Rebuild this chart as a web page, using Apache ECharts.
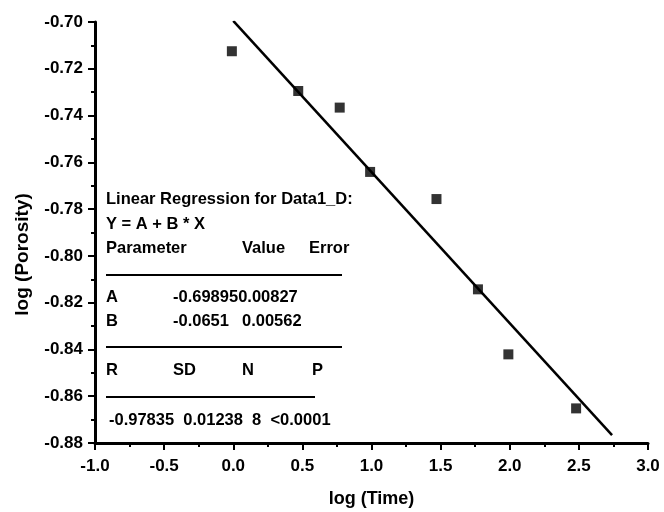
<!DOCTYPE html>
<html>
<head>
<meta charset="utf-8">
<script src="https://cdn.jsdelivr.net/npm/echarts@6/dist/echarts.min.js"></script>
<style>
  html, body { margin: 0; padding: 0; background: #fff; }
  #chart { width: 664px; height: 512px; }
</style>
</head>
<body>
<div id="chart"></div>
<script>
// measured points: log(Time) vs log(Porosity)
var logTime = [-0.01, 0.47, 0.77, 0.99, 1.47, 1.77, 1.99, 2.48];
var logPorosity = [-0.7125, -0.7295, -0.7366, -0.7641, -0.7757, -0.8143, -0.8421, -0.8652];

// fitted line end points, Y = A + B * X
var fitX = [0.0, 2.74];
var fitY = [-0.6995, -0.8766];

// axis ticks
var xTicks = { min: -1.0, max: 3.0, step: 0.5 };
var yTicks = { min: -0.88, max: -0.70, step: 0.02 };

// regression table text
var tableTitle = ["Linear Regression for Data1_D:", "Y = A + B * X"];
var paramHead = ["Parameter", "Value", "Error"];
var paramRows = [["A", "-0.698950.00827", ""], ["B", "-0.0651", "0.00562"]];
var statHead = ["R", "SD", "N", "P"];
var statRow = "-0.97835  0.01238  8  <0.0001";

(function () {
    var font = "'Liberation Sans', Arial, sans-serif";
    var chart = echarts.init(document.getElementById("chart"));

    var pts = [];
    for (var i = 0; i < logTime.length; i++) {
        pts.push([logTime[i], logPorosity[i]]);
    }
    var line = [];
    for (var j = 0; j < fitX.length; j++) {
        line.push([fitX[j], fitY[j]]);
    }

    function txt(x, y, s) {
        return {
            type: "text", left: x, top: y - 9,
            style: { text: s, fill: "#000", font: "bold 16.5px " + font }
        };
    }
    function rule(x1, x2, y) {
        return {
            type: "line",
            shape: { x1: x1, y1: y, x2: x2, y2: y },
            style: { stroke: "#000", lineWidth: 2 }
        };
    }

    // table layout columns
    var c0 = 106, c1 = 173, c2 = 242, c3 = 309;
    var graphics = [
        txt(c0, 200, tableTitle[0]),
        txt(c0, 225, tableTitle[1]),
        txt(c0, 249, paramHead[0]),
        txt(c2, 249, paramHead[1]),
        txt(c3, 249, paramHead[2]),
        rule(c0, 342, 275),
        txt(c0, 298, paramRows[0][0]),
        txt(c1, 298, paramRows[0][1]),
        txt(c0, 322, paramRows[1][0]),
        txt(c1, 322, paramRows[1][1]),
        txt(c2, 322, paramRows[1][2]),
        rule(c0, 342, 347),
        txt(c0, 371, statHead[0]),
        txt(c1, 371, statHead[1]),
        txt(c2, 371, statHead[2]),
        txt(c3 + 3, 371, statHead[3]),
        rule(c0, 315, 397),
        txt(c0 + 3, 421, statRow)
    ];

    var axisCommon = {
        axisLine: { show: true, onZero: false, lineStyle: { color: "#000", width: 3 } },
        axisTick: { show: true, inside: false, length: 7, lineStyle: { color: "#000", width: 2 } },
        minorTick: { show: true, splitNumber: 2, length: 4, lineStyle: { color: "#000", width: 2 } },
        splitLine: { show: false },
        nameLocation: "middle"
    };

    var option = {
        backgroundColor: "#fff",
        animation: false,
        grid: { left: 95, right: 16, top: 22, bottom: 69, containLabel: false, outerBoundsMode: "none" },
        xAxis: echarts.util.merge({
            type: "value",
            min: xTicks.min, max: xTicks.max, interval: xTicks.step,
            name: "log (Time)",
            nameGap: 47,
            nameTextStyle: { color: "#000", fontFamily: font, fontWeight: "bold", fontSize: 18 },
            axisLabel: {
                color: "#000", fontFamily: font, fontWeight: "bold", fontSize: 17, margin: 15,
                formatter: function (v) { return v.toFixed(1); }
            }
        }, axisCommon, true),
        yAxis: echarts.util.merge({
            type: "value",
            min: yTicks.min, max: yTicks.max, interval: yTicks.step,
            name: "log (Porosity)",
            nameGap: 63,
            nameTextStyle: { color: "#000", fontFamily: font, fontWeight: "bold", fontSize: 19, padding: [0, 44, 0, 0] },
            axisLabel: {
                color: "#000", fontFamily: font, fontWeight: "bold", fontSize: 17, margin: 12,
                formatter: function (v) { return v.toFixed(2); }
            }
        }, axisCommon, true),
        series: [
            {
                name: "Data1_D",
                type: "scatter",
                symbol: "rect",
                symbolSize: 10,
                itemStyle: { color: "#000" },
                data: pts,
                z: 3
            },
            {
                name: "Linear Fit",
                type: "line",
                showSymbol: false,
                lineStyle: { color: "#000", width: 2.5 },
                data: line,
                z: 2
            }
        ],
        graphic: graphics
    };
    chart.setOption(option, true);
})();
</script>
</body>
</html>
